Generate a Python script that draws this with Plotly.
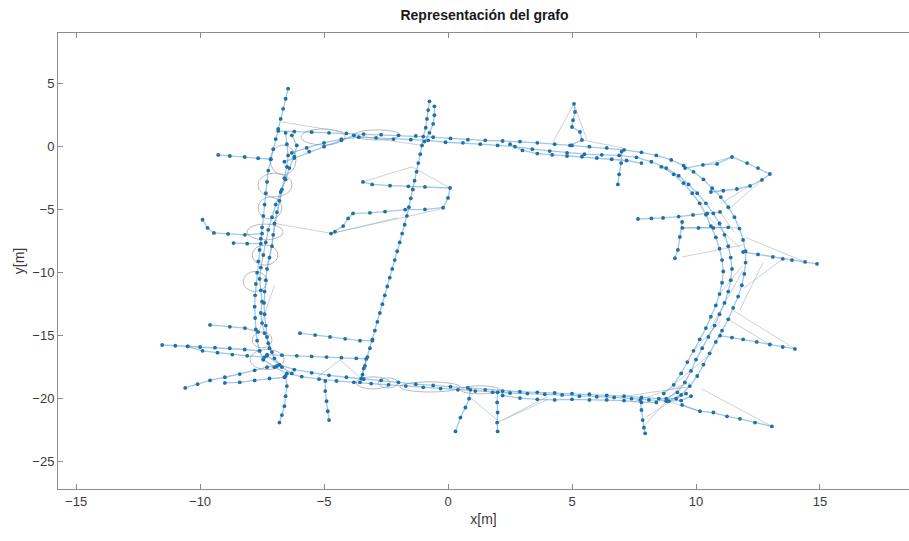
import plotly.graph_objects as go

# ---------------------------------------------------------------------------
# Pose-graph nodes, grouped by the trajectory segment they belong to (x, y in m)
# ---------------------------------------------------------------------------
LEFT_OUTER = [(-6.45, 4.6), (-6.55, 3.8), (-6.65, 3.0), (-6.75, 2.2), (-6.85, 1.4), (-6.95, 0.6),
              (-7.05, -0.2), (-7.15, -1.0), (-7.25, -1.9), (-7.3, -2.8), (-7.35, -3.7), (-7.4, -4.6),
              (-7.45, -5.5), (-7.5, -6.4), (-7.55, -7.3), (-7.6, -8.2), (-7.65, -9.1), (-7.7, -10.0),
              (-7.75, -10.9), (-7.78, -11.8), (-7.8, -12.7), (-7.78, -13.6), (-7.75, -14.5),
              (-7.7, -15.4), (-7.6, -16.2), (-7.45, -16.9)]
LEFT_INNER = [(-6.55, 1.1), (-6.5, 0.2), (-6.45, -0.7), (-6.5, -1.6), (-6.6, -2.5), (-6.7, -3.4),
              (-6.8, -4.3), (-6.9, -5.2), (-7.0, -6.1), (-7.05, -7.0), (-7.1, -7.9), (-7.2, -8.8),
              (-7.3, -9.7), (-7.35, -10.6), (-7.4, -11.5), (-7.42, -12.4), (-7.4, -13.3),
              (-7.35, -14.2), (-7.3, -15.1), (-7.2, -16.0), (-7.0, -16.8), (-6.7, -17.5), (-6.3, -18.0)]
LEFT_THIRD = [(-6.3, 0.9), (-6.1, 0.1), (-6.2, -0.8), (-6.4, -1.7), (-6.55, -2.6), (-6.75, -3.6),
              (-6.95, -4.6), (-7.1, -5.6), (-7.25, -6.6), (-7.35, -7.6), (-7.45, -8.6),
              (-7.55, -9.6), (-7.6, -10.5), (-7.55, -11.4), (-7.5, -12.3), (-7.55, -13.2),
              (-7.5, -14.0), (-7.4, -14.8), (-7.25, -15.6), (-7.1, -16.3)]
TOP_MAIN = [(-6.85, 1.25), (-6.2, 1.2), (-5.5, 1.15), (-4.8, 1.1), (-4.1, 1.05), (-3.4, 1.0),
            (-2.7, 0.95), (-2.0, 0.9), (-1.3, 0.85), (-0.6, 0.75), (0.1, 0.65), (0.8, 0.55),
            (1.5, 0.5), (2.2, 0.45), (2.9, 0.4), (3.6, 0.3), (4.3, 0.2), (5.0, 0.1), (5.7, 0.0),
            (6.4, -0.1), (7.1, -0.25), (7.8, -0.45), (8.4, -0.7), (9.0, -1.05), (9.5, -1.5),
            (9.9, -2.0), (10.3, -2.6), (10.65, -3.3), (11.0, -4.0), (11.3, -4.8), (11.55, -5.6),
            (11.75, -6.5), (11.9, -7.4), (12.0, -8.3), (12.0, -9.2), (11.95, -10.1), (11.85, -11.0),
            (11.7, -11.9), (11.5, -12.8), (11.3, -13.7), (11.05, -14.6), (10.8, -15.5),
            (10.55, -16.4), (10.3, -17.3), (10.05, -18.2), (9.75, -19.0), (9.4, -19.7), (8.9, -20.2)]
TOP_SECOND = [(-6.3, -0.5), (-5.7, -0.1), (-5.0, 0.3), (-4.3, 0.6), (-3.6, 0.75), (-2.9, 0.7),
              (-2.2, 0.6), (-1.5, 0.55), (-0.8, 0.5), (-0.1, 0.35), (0.6, 0.3), (1.3, 0.2),
              (2.0, 0.1), (2.7, 0.0), (3.4, -0.2), (4.1, -0.35), (4.8, -0.5), (5.5, -0.6),
              (6.2, -0.65), (6.9, -0.7), (7.6, -0.85), (8.2, -1.2), (8.8, -1.7), (9.3, -2.3),
              (9.7, -3.0), (10.05, -3.7), (10.4, -4.5), (10.7, -5.3), (10.95, -6.1), (11.15, -7.0),
              (11.3, -7.9), (11.4, -8.8), (11.45, -9.7), (11.4, -10.6), (11.3, -11.5),
              (11.15, -12.4), (10.95, -13.3), (10.75, -14.2), (10.5, -15.1), (10.25, -16.0),
              (10.0, -16.9), (9.8, -17.8), (9.55, -18.7), (9.25, -19.5), (8.8, -20.0)]
RIGHT_THIRD = [(8.6, -1.6), (9.1, -2.2), (9.5, -2.9), (9.85, -3.7), (10.15, -4.5), (10.4, -5.4),
               (10.6, -6.3), (10.8, -7.2), (10.95, -8.1), (11.05, -9.0), (11.1, -9.9),
               (11.05, -10.8), (10.95, -11.7), (10.8, -12.6), (10.6, -13.5), (10.4, -14.4),
               (10.15, -15.3), (9.9, -16.2), (9.65, -17.1), (9.4, -18.0), (9.1, -18.9), (8.7, -19.6)]
BOTTOM_MAIN = [(-7.45, -16.9), (-7.0, -17.5), (-6.5, -18.0), (-5.9, -18.25), (-5.2, -18.45),
               (-4.5, -18.6), (-3.8, -18.7), (-3.1, -18.8), (-2.4, -18.9), (-1.7, -19.0),
               (-1.0, -19.1), (-0.3, -19.2), (0.4, -19.3), (1.1, -19.4), (1.8, -19.5),
               (2.5, -19.55), (3.2, -19.6), (3.9, -19.65), (4.6, -19.7), (5.3, -19.8),
               (6.0, -19.85), (6.7, -19.9), (7.4, -20.0), (8.1, -20.1), (8.8, -20.2),
               (9.4, -20.15), (9.8, -19.8)]
BOTTOM_SECOND = [(-7.3, -16.6), (-6.8, -17.3), (-6.2, -17.7), (-5.5, -17.95), (-4.8, -18.15),
                 (-4.1, -18.3), (-3.4, -18.45), (-2.7, -18.55), (-2.0, -18.7), (-1.3, -18.85),
                 (-0.6, -18.95), (0.1, -19.05), (0.8, -19.15), (1.5, -19.3), (2.2, -19.4),
                 (2.9, -19.45), (3.6, -19.5), (4.3, -19.55), (5.0, -19.6), (5.7, -19.65),
                 (6.4, -19.75), (7.1, -19.8), (7.8, -19.9), (8.5, -20.0), (9.2, -20.0), (9.6, -19.6)]
BOTTOM_LOWER = [(2.2, -19.75), (2.9, -19.95), (3.6, -20.05), (4.3, -20.1), (5.0, -20.05),
                (5.7, -20.1), (6.4, -20.1), (7.1, -20.15), (7.8, -20.3), (8.4, -20.3)]
BOTTOM_UPPER = [(-7.3, -16.5), (-6.7, -16.55), (-6.1, -16.6), (-5.5, -16.65), (-4.9, -16.7),
                (-4.3, -16.75), (-3.7, -16.8), (-3.3, -16.85), (-3.4, -17.6), (-3.5, -18.4)]
MIDDLE_COLUMN = [(-0.75, 3.6), (-0.8, 2.9), (-0.85, 2.2), (-0.9, 1.5), (-1.0, 0.8), (-1.05, 0.1),
                 (-1.12, -0.6), (-1.2, -1.3), (-1.27, -2.0), (-1.35, -2.7), (-1.42, -3.4),
                 (-1.5, -4.1), (-1.58, -4.8), (-1.66, -5.5), (-1.75, -6.2), (-1.85, -6.9),
                 (-1.95, -7.6), (-2.05, -8.3), (-2.15, -9.0), (-2.25, -9.7), (-2.35, -10.4),
                 (-2.45, -11.1), (-2.55, -11.8), (-2.65, -12.5), (-2.75, -13.2), (-2.85, -13.9),
                 (-2.95, -14.6), (-3.05, -15.3), (-3.15, -16.0), (-3.25, -16.7), (-3.35, -17.4),
                 (-3.45, -18.1), (-3.55, -18.7)]
MIDDLE_SECOND = [(-0.55, 3.2), (-0.55, 2.5), (-0.6, 1.8), (-0.75, 1.1), (-0.95, 0.4)]
SPUR_LEFT_TOP = [(-9.27, -0.66), (-8.8, -0.74), (-8.2, -0.82), (-7.66, -0.92), (-7.15, -1.0)]
SPUR_LEFT_HOOK = [(-9.9, -5.8), (-9.7, -6.45), (-9.44, -6.85), (-8.87, -6.93), (-8.19, -7.0),
                  (-7.5, -6.9)]
SPUR_LEFT_SHORT = [(-8.65, -7.65), (-8.1, -7.7), (-7.55, -7.7)]
SPUR_LEFT_MID = [(-9.6, -14.15), (-8.8, -14.3), (-8.19, -14.4), (-7.66, -14.7)]
SPUR_LEFT_LONG = [(-11.53, -15.74), (-11.0, -15.8), (-10.5, -15.85), (-10.0, -15.9), (-9.4, -15.95),
                  (-8.8, -16.0), (-8.2, -16.1), (-7.6, -16.2)]
SPUR_LEFT_LONG_B = [(-10.5, -15.85), (-9.9, -16.2), (-9.3, -16.35), (-8.7, -16.5), (-8.1, -16.6),
                    (-7.4, -16.7)]
SPUR_LEFT_LOW = [(-10.6, -19.15), (-10.1, -18.85), (-9.6, -18.55), (-9.0, -18.3), (-8.4, -18.05),
                 (-7.8, -17.75), (-7.3, -17.5), (-6.9, -17.4)]
SPUR_LEFT_LOW_B = [(-9.0, -18.75), (-8.4, -18.7), (-7.8, -18.55), (-7.2, -18.4), (-6.6, -18.3)]
SPUR_DOWN_A = [(-6.55, -18.2), (-6.5, -19.0), (-6.55, -19.8), (-6.6, -20.6), (-6.7, -21.3),
               (-6.8, -21.9)]
SPUR_DOWN_B = [(-4.95, -18.6), (-4.95, -19.4), (-4.9, -20.2), (-4.85, -21.0), (-4.8, -21.7)]
SPUR_INNER = [(-5.97, -14.8), (-5.36, -14.95), (-4.76, -15.1), (-4.15, -15.25), (-3.55, -15.4),
              (-3.05, -15.4)]
SPUR_MIDDLE = [(-3.43, -2.8), (-3.06, -3.0), (-2.34, -3.1), (-1.6, -3.15), (-0.93, -3.2),
               (0.08, -3.28), (0.0, -4.07), (-0.2, -4.85), (-0.93, -4.98), (-1.73, -5.0),
               (-2.54, -5.15), (-3.15, -5.25), (-3.83, -5.3), (-4.03, -5.7), (-4.23, -6.3),
               (-4.56, -6.75), (-4.72, -6.9)]
SPUR_BOTTOM_A = [(0.9, -19.3), (0.85, -20.0), (0.7, -20.7), (0.5, -21.5), (0.3, -22.6)]
SPUR_BOTTOM_B = [(2.0, -19.5), (1.98, -20.3), (2.0, -21.1), (1.98, -21.9), (2.0, -22.6)]
SPUR_BOTTOM_C = [(7.75, -20.1), (7.8, -20.9), (7.85, -21.7), (7.9, -22.3), (7.95, -22.75)]
SPUR_RIGHT_LOW = [(9.44, -20.5), (10.16, -21.0), (10.7, -21.1), (11.25, -21.4), (11.77, -21.6),
                  (12.38, -21.9), (13.06, -22.2)]
SPUR_RIGHT_MID = [(10.97, -15.0), (11.45, -15.15), (11.9, -15.3), (12.45, -15.5), (12.98, -15.7),
                  (13.5, -15.9), (13.99, -16.05)]
SPUR_RIGHT_FAR = [(11.9, -8.36), (12.5, -8.55), (13.1, -8.75), (13.5, -8.9), (13.87, -9.0),
                  (14.4, -9.15), (14.88, -9.3)]
SPUR_RIGHT_TOP = [(9.56, -1.7), (10.28, -1.45), (10.85, -1.37), (11.45, -0.82), (12.06, -1.3),
                  (12.5, -1.7), (12.98, -2.17), (12.66, -2.64), (12.18, -3.12), (11.65, -3.36),
                  (11.1, -3.5), (10.6, -3.6)]
SPUR_RIGHT_INNER = [(7.66, -5.74), (8.2, -5.7), (8.67, -5.66), (9.3, -5.55), (9.88, -5.42),
                    (10.45, -5.3), (10.97, -5.18)]
SPUR_RIGHT_DROP = [(9.44, -5.98), (9.35, -7.17), (9.27, -8.2), (9.15, -8.85)]
SPUR_RIGHT_BRANCH = [(9.45, -6.45), (10.1, -6.45), (10.7, -6.45), (11.3, -6.4)]
SPUR_TOP_SMALL = [(7.0, -0.4), (6.98, -1.3), (6.9, -2.2), (6.85, -3.0)]
SPUR_TOP_PEAK = [(4.92, 0.1), (5.4, 0.53), (5.32, 1.17), (5.0, 1.56), (5.04, 2.1), (5.12, 2.75),
                 (5.08, 3.4)]
TOP_LOWER = [(2.5, 0.2), (3.0, -0.3), (3.6, -0.55), (4.2, -0.65), (4.8, -0.75), (5.4, -0.8),
             (6.0, -0.9), (6.6, -1.0), (7.2, -1.1), (7.8, -1.3)]
TOP_LEFT_DIAGONAL = [(-6.6, -1.2), (-6.2, -0.9), (-5.6, -0.4), (-5.0, 0.0), (-4.3, 0.5), (-3.8, 0.9)]

SEGMENTS = [LEFT_OUTER, LEFT_INNER, LEFT_THIRD, TOP_MAIN, TOP_SECOND, RIGHT_THIRD, BOTTOM_MAIN,
            BOTTOM_SECOND, BOTTOM_LOWER, BOTTOM_UPPER, MIDDLE_COLUMN, MIDDLE_SECOND,
            SPUR_LEFT_TOP, SPUR_LEFT_HOOK, SPUR_LEFT_SHORT, SPUR_LEFT_MID, SPUR_LEFT_LONG,
            SPUR_LEFT_LONG_B, SPUR_LEFT_LOW, SPUR_LEFT_LOW_B, SPUR_DOWN_A, SPUR_DOWN_B, SPUR_INNER,
            SPUR_MIDDLE, SPUR_BOTTOM_A, SPUR_BOTTOM_B, SPUR_BOTTOM_C, SPUR_RIGHT_LOW,
            SPUR_RIGHT_MID, SPUR_RIGHT_FAR, SPUR_RIGHT_TOP, SPUR_RIGHT_INNER, SPUR_RIGHT_DROP,
            SPUR_RIGHT_BRANCH, SPUR_TOP_SMALL, SPUR_TOP_PEAK, TOP_LOWER, TOP_LEFT_DIAGONAL]

# Loop-closure constraints between non-consecutive poses
LOOP_EDGES = [((-6.7, 1.96), (-4.23, 1.16)), ((-1.45, -1.6), (-3.43, -2.8)),
              ((-1.45, -1.6), (0.08, -3.28)), ((-7.06, -6.07), (-4.76, -6.86)),
              ((-4.72, -6.9), (-0.32, -4.96)), ((-4.72, -6.9), (-2.06, -5.66)),
              ((5.08, 3.4), (4.23, 0.37)), ((5.08, 3.4), (5.6, 0.53)), ((5.4, 0.53), (7.06, -0.1)),
              ((10.28, -1.45), (11.45, -0.82)), ((12.66, -2.64), (11.3, -5.0)),
              ((12.18, -3.12), (11.0, -4.5)), ((10.97, -5.18), (11.55, -6.8)),
              ((9.48, -6.45), (11.77, -6.45)), ((9.44, -8.76), (11.9, -7.8)),
              ((14.4, -9.15), (12.0, -7.2)), ((13.5, -8.9), (11.95, -11.2)),
              ((13.99, -16.05), (11.5, -13.0)), ((12.98, -15.7), (11.3, -13.7)),
              ((13.06, -22.2), (10.2, -19.2)), ((10.16, -21.0), (8.5, -20.0)),
              ((1.98, -21.9), (4.0, -20.08)), ((2.2, -21.7), (4.0, -19.85)),
              ((0.89, -19.9), (1.98, -21.7)), ((7.86, -22.25), (9.35, -19.05)),
              ((8.0, -21.45), (9.07, -20.1)), ((-5.28, -18.3), (-4.35, -16.93)),
              ((-4.35, -16.93), (-3.55, -18.3)), ((6.94, -19.86), (9.68, -19.07)),
              ((7.46, -20.26), (9.76, -18.75)), ((11.9, -9.8), (10.56, -14.5)),
              ((12.7, -9.2), (11.77, -12.96)), ((-7.3, -9.7), (-6.7, -3.4)),
              ((-7.6, -14.5), (-7.0, -11.0)), ((-3.8, 0.9), (-1.05, 0.1)),
              ((10.4, -5.4), (11.75, -8.0)), ((10.95, -11.7), (11.85, -9.5)),
              ((9.9, -16.2), (11.0, -13.8)), ((9.1, -18.9), (10.5, -16.6))]

# Pose covariance ellipses: centre x, centre y, semi-axis x, semi-axis y
ELLIPSE_CX = [-6.65, -6.98, -7.18, -7.38, -7.38, -7.78, -5.04, -2.86, -7.3, -0.73, 1.29, -2.42,
              -3.02, -7.5]
ELLIPSE_CY = [-1.06, -3.04, -4.87, -6.77, -8.6, -10.7, 0.77, 0.93, -16.9, -19.07, -19.3, -18.75,
              -18.75, -15.34]
ELLIPSE_RX = [0.52, 0.69, 0.48, 0.73, 0.52, 0.48, 0.89, 0.93, 0.69, 1.21, 0.8, 0.4, 0.69, 0.4]
ELLIPSE_RY = [1.19, 0.95, 0.87, 0.63, 0.8, 0.8, 0.63, 0.4, 0.8, 0.4, 0.32, 0.4, 0.48, 0.63]

X_TICKS = [-15, -10, -5, 0, 5, 10, 15]
Y_TICKS = [-25, -20, -15, -10, -5, 0, 5]

# ---------------------------------------------------------------------------
edge_x, edge_y = [], []
node_x, node_y = [], []
for seg in SEGMENTS:
    edge_x += [p[0] for p in seg] + [None]
    edge_y += [p[1] for p in seg] + [None]
    node_x += [p[0] for p in seg]
    node_y += [p[1] for p in seg]

loop_x, loop_y = [], []
for a, b in LOOP_EDGES:
    loop_x += [a[0], b[0], None]
    loop_y += [a[1], b[1], None]

fig = go.Figure()
fig.add_trace(go.Scatter(x=loop_x, y=loop_y, mode="lines", hoverinfo="skip",
                         line=dict(color="rgba(150,170,190,0.6)", width=0.9)))
fig.add_trace(go.Scatter(x=edge_x, y=edge_y, mode="lines", hoverinfo="skip",
                         line=dict(color="rgba(60,150,210,0.5)", width=1.3)))
fig.add_trace(go.Scatter(x=node_x, y=node_y, mode="markers",
                         marker=dict(size=3.8, color="#216fa6")))

for cx, cy, rx, ry in zip(ELLIPSE_CX, ELLIPSE_CY, ELLIPSE_RX, ELLIPSE_RY):
    fig.add_shape(type="circle", xref="x", yref="y", x0=cx - rx, x1=cx + rx,
                  y0=cy - ry, y1=cy + ry, layer="below",
                  line=dict(color="rgba(170,175,180,0.85)", width=1))

axis_common = dict(showgrid=False, zeroline=False, showline=True,
                   linecolor="#8c8c8c", linewidth=1, ticks="inside", ticklen=5,
                   tickcolor="#8c8c8c", tickfont=dict(size=13, color="#3a3a3a"))

fig.update_layout(
    width=909, height=541,
    margin=dict(l=58, r=0, t=33, b=52),
    paper_bgcolor="white", plot_bgcolor="white",
    showlegend=False,
    font=dict(family="Liberation Sans, Arial, sans-serif", color="#262626"),
    title=dict(text="<b>Representación del grafo</b>", x=0.533, xanchor="center",
               y=0.972, yanchor="middle", font=dict(size=14, color="#1a1a1a")),
    xaxis=dict(range=[-15.73, 18.59], tickvals=X_TICKS, mirror="ticks",
               title=dict(text="x[m]", font=dict(size=14, color="#3a3a3a"), standoff=6),
               **axis_common),
    yaxis=dict(range=[-27.17, 9.02], tickvals=Y_TICKS, mirror=False,
               title=dict(text="y[m]", font=dict(size=14, color="#3a3a3a"), standoff=4),
               **axis_common),
)

fig.write_html("out.html")
